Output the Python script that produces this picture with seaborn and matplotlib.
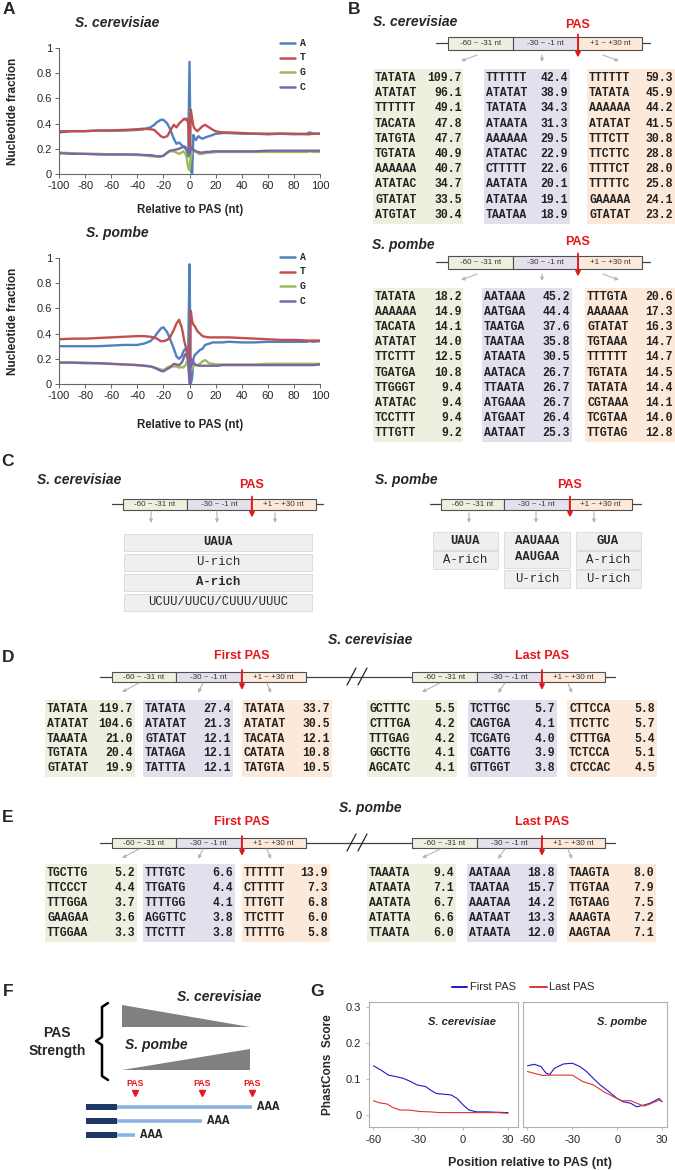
import matplotlib
matplotlib.use("Agg")
import matplotlib.pyplot as plt
from matplotlib.patches import Rectangle, Polygon
import numpy as np
import pandas as pd
import seaborn as sns

sns.set_style("white")
plt.rcParams["font.family"] = ["Liberation Sans", "DejaVu Sans"]
plt.rcParams["axes.unicode_minus"] = False

W, H = 675, 1170
RED = "#e8161b"
MONO = "Liberation Mono"

# ---------------- data ----------------
# panel A: nucleotide fraction around the PAS
pos_a = [-100, -90, -80, -70, -60, -50, -40, -35, -30, -27, -25, -22, -20, -17, -15, -12, -10, -8, -6, -5,
         -4, -3, -2, -1, 0, 1, 2, 3, 4, 5, 6, 7, 8, 10, 12, 15, 18, 20, 22, 25,
         30, 40, 50, 60, 70, 80, 90, 92, 95, 100]

sc_A = [.34, .34, .34, .345, .345, .345, .35, .355, .37, .39, .41, .43, .43, .40, .36, .28, .24, .25, .23, .22,
        .21, .20, .18, .14, .89, .03, .0, .31, .28, .27, .29, .30, .29, .28, .29, .30, .31, .32, .32, .325,
        .325, .32, .32, .315, .32, .315, .32, .33, .32, .32]
sc_T = [.33, .34, .34, .345, .345, .35, .355, .36, .355, .35, .33, .30, .29, .30, .34, .39, .37, .40, .42, .43,
        .44, .43, .44, .40, .22, .51, .44, .38, .36, .35, .34, .35, .36, .38, .39, .37, .35, .34, .335, .33,
        .33, .325, .32, .32, .32, .32, .315, .315, .32, .32]
sc_G = [.17, .165, .16, .16, .155, .155, .15, .15, .14, .14, .14, .14, .145, .17, .18, .18, .17, .16, .17, .18,
        .17, .16, .12, .05, .03, .12, .18, .19, .19, .18, .17, .16, .16, .16, .165, .17, .17, .175, .175, .175,
        .175, .175, .175, .175, .175, .175, .175, .18, .175, .175]
sc_C = [.165, .16, .16, .155, .155, .155, .155, .15, .15, .145, .14, .14, .145, .17, .185, .19, .195, .20, .21, .215,
        .22, .21, .20, .19, .16, .20, .21, .19, .18, .18, .175, .175, .17, .17, .175, .175, .18, .18, .18, .18,
        .18, .18, .18, .185, .185, .185, .185, .185, .185, .185]

sp_A = [.30, .30, .30, .30, .305, .31, .31, .32, .34, .37, .40, .44, .45, .41, .36, .28, .22, .20, .22, .25,
        .27, .28, .26, .25, .95, .0, .05, .20, .23, .24, .25, .26, .27, .28, .31, .32, .33, .33, .33, .33,
        .335, .33, .33, .335, .335, .335, .335, .34, .335, .34]
sp_T = [.355, .36, .36, .365, .37, .375, .38, .38, .375, .37, .36, .34, .34, .35, .37, .43, .48, .51, .45, .40,
        .34, .30, .26, .22, .05, .58, .50, .47, .46, .44, .42, .41, .40, .38, .375, .37, .37, .37, .37, .37,
        .37, .365, .36, .355, .35, .35, .345, .345, .345, .345]
sp_G = [.17, .17, .17, .165, .16, .155, .15, .145, .14, .13, .125, .115, .11, .13, .14, .14, .14, .13, .135, .13,
        .14, .15, .18, .16, .10, .11, .12, .14, .15, .15, .15, .155, .16, .18, .19, .165, .16, .155, .155, .155,
        .155, .155, .155, .16, .16, .16, .16, .16, .16, .16]
sp_C = [.17, .17, .165, .165, .16, .155, .15, .145, .14, .13, .12, .105, .10, .12, .13, .16, .155, .15, .17, .19,
        .22, .24, .22, .18, .0, .20, .19, .17, .16, .15, .15, .145, .145, .145, .145, .145, .145, .145, .145, .15,
        .15, .15, .15, .15, .15, .15, .15, .15, .15, .155]

bases = ["A", "T", "G", "C"]
base_colors = ["#4f81bd", "#c0504d", "#9bbb59", "#8064a2"]

# panel B: top hexamers, S. cerevisiae
b_sc_motifs = [
    ["TATATA", "ATATAT", "TTTTTT", "TACATA", "TATGTA", "TGTATA", "AAAAAA", "ATATAC", "GTATAT", "ATGTAT"],
    ["TTTTTT", "ATATAT", "TATATA", "ATAATA", "AAAAAA", "ATATAC", "CTTTTT", "AATATA", "ATATAA", "TAATAA"],
    ["TTTTTT", "TATATA", "AAAAAA", "ATATAT", "TTTCTT", "TTCTTC", "TTTTCT", "TTTTTC", "GAAAAA", "GTATAT"],
]
b_sc_values = [
    [109.7, 96.1, 49.1, 47.8, 47.7, 40.9, 40.7, 34.7, 33.5, 30.4],
    [42.4, 38.9, 34.3, 31.3, 29.5, 22.9, 22.6, 20.1, 19.1, 18.9],
    [59.3, 45.9, 44.2, 41.5, 30.8, 28.8, 28.0, 25.8, 24.1, 23.2],
]
# panel B: S. pombe
b_sp_motifs = [
    ["TATATA", "AAAAAA", "TACATA", "ATATAT", "TTCTTT", "TGATGA", "TTGGGT", "ATATAC", "TCCTTT", "TTTGTT"],
    ["AATAAA", "AATGAA", "TAATGA", "TAATAA", "ATAATA", "AATACA", "TTAATA", "ATGAAA", "ATGAAT", "AATAAT"],
    ["TTTGTA", "AAAAAA", "GTATAT", "TGTAAA", "TTTTTT", "TGTATA", "TATATA", "CGTAAA", "TCGTAA", "TTGTAG"],
]
b_sp_values = [
    [18.2, 14.9, 14.1, 14.0, 12.5, 10.8, 9.4, 9.4, 9.4, 9.2],
    [45.2, 44.4, 37.6, 35.8, 30.5, 26.7, 26.7, 26.7, 26.4, 25.3],
    [20.6, 17.3, 16.3, 14.7, 14.7, 14.5, 14.4, 14.1, 14.0, 12.8],
]

# panel D: S. cerevisiae first / last PAS
d_first_motifs = [["TATATA", "ATATAT", "TAAATA", "TGTATA", "GTATAT"],
                  ["TATATA", "ATATAT", "GTATAT", "TATAGA", "TATTTA"],
                  ["TATATA", "ATATAT", "TACATA", "CATATA", "TATGTA"]]
d_first_values = [[119.7, 104.6, 21.0, 20.4, 19.9],
                  [27.4, 21.3, 12.1, 12.1, 12.1],
                  [33.7, 30.5, 12.1, 10.8, 10.5]]
d_last_motifs = [["GCTTTC", "CTTTGA", "TTTGAG", "GGCTTG", "AGCATC"],
                 ["TCTTGC", "CAGTGA", "TCGATG", "CGATTG", "GTTGGT"],
                 ["CTTCCA", "TTCTTC", "CTTTGA", "TCTCCA", "CTCCAC"]]
d_last_values = [[5.5, 4.2, 4.2, 4.1, 4.1],
                 [5.7, 4.1, 4.0, 3.9, 3.8],
                 [5.8, 5.7, 5.4, 5.1, 4.5]]

# panel E: S. pombe first / last PAS
e_first_motifs = [["TGCTTG", "TTCCCT", "TTTGGA", "GAAGAA", "TTGGAA"],
                  ["TTTGTC", "TTGATG", "TTTTGG", "AGGTTC", "TTCTTT"],
                  ["TTTTTT", "CTTTTT", "TTTGTT", "TTCTTT", "TTTTTG"]]
e_first_values = [[5.2, 4.4, 3.7, 3.6, 3.3],
                  [6.6, 4.4, 4.1, 3.8, 3.8],
                  [13.9, 7.3, 6.8, 6.0, 5.8]]
e_last_motifs = [["TAAATA", "ATAATA", "AATATA", "ATATTA", "TTAATA"],
                 ["AATAAA", "TAATAA", "AAATAA", "AATAAT", "ATAATA"],
                 ["TAAGTA", "TTGTAA", "TGTAAG", "AAAGTA", "AAGTAA"]]
e_last_values = [[9.4, 7.1, 6.7, 6.6, 6.0],
                 [18.8, 15.7, 14.2, 13.3, 12.0],
                 [8.0, 7.9, 7.5, 7.2, 7.1]]

# panel G: PhastCons score
g_sc_first_pos = [-60, -55, -50, -45, -40, -35, -31, -25, -22, -18, -13, -8, -4, 0, 4, 9, 16, 22, 30]
g_sc_first = [0.137, 0.125, 0.111, 0.107, 0.102, 0.093, 0.084, 0.079, 0.070, 0.060, 0.058, 0.056, 0.046,
              0.028, 0.014, 0.009, 0.009, 0.008, 0.007]
g_sc_last_pos = [-60, -56, -51, -47, -42, -36, -29, -22, -16, -9, 0, 11, 22, 30]
g_sc_last = [0.040, 0.034, 0.031, 0.021, 0.014, 0.014, 0.010, 0.009, 0.007, 0.007, 0.007, 0.007, 0.007, 0.005]
g_sp_first_pos = [-60, -55.5, -51, -47.5, -45, -42, -36, -30, -25, -20.5, -16, -11.5, -7, 0, 4, 9, 13, 18,
                  22, 28, 30]
g_sp_first = [0.137, 0.141, 0.135, 0.116, 0.113, 0.130, 0.142, 0.144, 0.135, 0.121, 0.102, 0.084, 0.070,
              0.046, 0.037, 0.033, 0.023, 0.028, 0.033, 0.046, 0.037]
g_sp_last_pos = [-60, -55.5, -50, -43, -36, -30, -23, -16, -9, -2.5, 3, 9, 13, 18, 22, 28, 30]
g_sp_last = [0.121, 0.116, 0.110, 0.111, 0.111, 0.111, 0.093, 0.084, 0.065, 0.051, 0.040, 0.040, 0.033,
             0.025, 0.031, 0.042, 0.037]

region_labels = ["-60 ~ -31 nt", "-30 ~ -1 nt", "+1 ~ +30 nt"]
box_colors = ["#ebf1de", "#e5e0ec", "#fde9d9"]
tab_colors = ["#ebf1de", "#e4dfec", "#fde9d9"]


def pbox(x0, y0, x1, y1):
    return [x0 / W, 1 - y1 / H, (x1 - x0) / W, (y1 - y0) / H]


fig = plt.figure(figsize=(W / 100, H / 100), dpi=100)
ov = fig.add_axes([0, 0, 1, 1])
ov.set_xlim(0, W)
ov.set_ylim(H, 0)
ov.axis("off")


def arrow(x0, y0, x1, y1, color, lw, ms):
    ov.annotate("", xy=(x1, y1), xytext=(x0, y0),
                arrowprops=dict(arrowstyle="-|>", color=color, lw=lw, mutation_scale=ms,
                                shrinkA=0, shrinkB=0))


def diagram(y, edges, pas_x, pas_txt, arrows, h, label_dy, line=None):
    if line is not None:
        ov.plot(line, [y, y], color="#404040", lw=0.9, zorder=1)
    for i in range(3):
        ov.add_patch(Rectangle((edges[i], y - h / 2), edges[i + 1] - edges[i], h,
                               fc=box_colors[i], ec="#505050", lw=0.8, zorder=2))
        ov.text((edges[i] + edges[i + 1]) / 2, y + 0.5, region_labels[i], fontsize=5.8,
                ha="center", va="center", color="#333333", zorder=3)
    ov.text(pas_x, y - label_dy, pas_txt, color=RED, fontweight="bold", fontsize=9,
            ha="center", va="center")
    arrow(pas_x, y - h / 2 - 2, pas_x, y + h / 2 + 8, RED, 1.3, 7)
    for a in arrows:
        arrow(a[0], a[1], a[2], a[3], "#b5b5b5", 0.8, 5)


def table(y0, dy, cols, motifs, values):
    n = len(motifs[0])
    for j, (xa, xb, xm, xv) in enumerate(cols):
        ov.add_patch(Rectangle((xa, y0 - 9), xb - xa, (n - 1) * dy + 18, fc=tab_colors[j], ec="none"))
        for i in range(n):
            ov.text(xm, y0 + i * dy, motifs[j][i], family=MONO, fontweight="bold", fontsize=8.3,
                    ha="left", va="center", color="#222222")
            ov.text(xv, y0 + i * dy, f"{values[j][i]:.1f}", family=MONO, fontweight="bold", fontsize=8.3,
                    ha="right", va="center", color="#222222")


def panel_label(x, y, s):
    ov.text(x, y, s, fontsize=12.5, fontweight="bold", ha="center", va="center")


def title(x, y, s, ha="center", fs=10):
    ov.text(x, y, s, fontsize=fs, fontweight="bold", style="italic", ha=ha, va="center")


# ---------------- panel A ----------------
panel_label(9, 9, "A")
for (y0, y1, tname, series, leg_y) in [(48, 174, "S. cerevisiae", [sc_A, sc_T, sc_G, sc_C], 43),
                                         (258, 384, "S. pombe", [sp_A, sp_T, sp_G, sp_C], 257)]:
    ax = fig.add_axes(pbox(59, y0, 320, y1))
    df = pd.DataFrame({"pos": pos_a * 4,
                       "frac": sum(series, []),
                       "base": sum([[b] * len(pos_a) for b in bases], [])})
    sns.lineplot(data=df, x="pos", y="frac", hue="base", hue_order=bases, palette=base_colors,
                 legend=False, ax=ax, linewidth=1.7)
    ax.set_xlim(-100, 100)
    ax.set_ylim(0, 1)
    ax.set_xticks(range(-100, 101, 20))
    ax.set_yticks([0, 0.2, 0.4, 0.6, 0.8, 1])
    ax.set_yticklabels(["0", "0.2", "0.4", "0.6", "0.8", "1"])
    ax.set_xlabel("")
    ax.set_ylabel("")
    ax.patch.set_alpha(0)
    for s in ["top", "right"]:
        ax.spines[s].set_visible(False)
    for s in ["left", "bottom"]:
        ax.spines[s].set_color("#666666")
        ax.spines[s].set_linewidth(0.8)
    ax.tick_params(labelsize=8, length=3, width=0.7, color="#666666", pad=2, left=True, bottom=True)
    title(117, y0 - 25, tname)
    ov.text(190, y1 + 36 if y0 < 200 else y1 + 41, "Relative to PAS (nt)", fontsize=8.3,
            fontweight="bold", ha="center", va="center")
    ov.text(13, (y0 + y1) / 2, "Nucleotide fraction", fontsize=8.5, fontweight="bold",
            rotation=90, ha="center", va="center")
    for k, b in enumerate(bases):
        yy = leg_y + k * 14.5
        ov.plot([280, 295], [yy, yy], color=base_colors[k], lw=1.8)
        ov.text(300, yy, b, family=MONO, fontweight="bold", fontsize=7, ha="left", va="center")

# ---------------- panel B ----------------
panel_label(354, 10, "B")
title(373, 22, "S. cerevisiae", ha="left")
diagram(43, [448, 513, 578, 642], 578, "PAS",
        [(477, 55, 461, 61), (542, 55, 542, 62), (603, 55, 619, 61)], 13, 18, line=[436, 650])
table(78, 15.2, [(373, 463, 375, 462), (484, 570, 486, 568), (587, 675, 589, 673)],
      b_sc_motifs, b_sc_values)

title(372, 245, "S. pombe", ha="left")
diagram(262, [448, 513, 578, 642], 578, "PAS",
        [(477, 274, 461, 280), (542, 274, 542, 281), (603, 274, 619, 280)], 13, 20, line=[436, 650])
table(297, 15.1, [(373, 463, 375, 462), (482, 572, 484, 570), (585, 675, 587, 673)],
      b_sp_motifs, b_sp_values)

# ---------------- panel C ----------------
panel_label(8, 462, "C")
title(37, 480, "S. cerevisiae", ha="left")
diagram(504, [123, 187, 251, 316], 252, "PAS",
        [(151, 511, 151, 523), (217, 511, 217, 523), (275, 511, 275, 523)], 11, 19, line=[112, 323])
c_left = [("UAUA", "bold"), ("U-rich", "normal"), ("A-rich", "bold"), ("UCUU/UUCU/CUUU/UUUC", "normal")]
for i, (s, wgt) in enumerate(c_left):
    yc = 542 + i * 20
    ov.add_patch(Rectangle((124, yc - 8.5), 188, 17, fc="#efefef", ec="#d9d9d9", lw=0.6))
    ov.text(218, yc, s, family=MONO, fontweight=wgt, fontsize=8.8, ha="center", va="center")

title(375, 480, "S. pombe", ha="left")
diagram(504, [441, 504, 569, 632], 570, "PAS",
        [(469, 511, 469, 523), (536, 511, 536, 523), (594, 511, 594, 523)], 11, 19, line=[430, 641])
c_boxes = [(433, 532, 65, 18), (433, 551, 65, 18), (504, 532, 66, 36), (504, 570, 66, 18),
           (576, 532, 65, 18), (576, 551, 65, 18), (576, 570, 65, 18)]
for (bx, by, bw, bh) in c_boxes:
    ov.add_patch(Rectangle((bx, by), bw, bh, fc="#efefef", ec="#d9d9d9", lw=0.6))
c_right = [(465, 541, "UAUA", "bold"), (465, 560, "A-rich", "normal"),
           (537, 541, "AAUAAA", "bold"), (537, 557, "AAUGAA", "bold"), (537, 579, "U-rich", "normal"),
           (608, 541, "GUA", "bold"), (608, 560, "A-rich", "normal"), (608, 579, "U-rich", "normal")]
for (tx, ty, s, wgt) in c_right:
    ov.text(tx, ty, s, family=MONO, fontweight=wgt, fontsize=8.8, ha="center", va="center")

# ---------------- panels D and E ----------------
for (lab, y, tname, fm, fv, lm, lv, ty0, dy, cols_l, cols_r) in [
    ("D", 677, "S. cerevisiae", d_first_motifs, d_first_values, d_last_motifs, d_last_values, 709, 14.8,
     [(45, 135, 47, 133), (143, 233, 145, 231), (242, 332, 244, 330)],
     [(367, 457, 369, 455), (468, 557, 470, 555), (567, 657, 569, 655)]),
    ("E", 843, "S. pombe", e_first_motifs, e_first_values, e_last_motifs, e_last_values, 873, 15,
     [(45, 137, 47, 135), (143, 235, 145, 233), (242, 330, 244, 328)],
     [(367, 456, 369, 454), (467, 557, 469, 555), (567, 656, 569, 654)]),
]:
    panel_label(8, y - 19 if lab == "D" else y - 25, lab)
    title(370, y - 37 if lab == "D" else y - 35, tname)
    ov.plot([100, 615], [y, y], color="#404040", lw=0.9, zorder=1)
    for sx in (347, 358):
        ov.plot([sx, sx + 9], [y + 8, y - 9], color="#222222", lw=0.9, zorder=2)
    diagram(y, [112, 176, 241, 306], 242, "First PAS",
            [(139, y + 6, 122, y + 15), (203, y + 6, 198, y + 16), (267, y + 6, 271, y + 16)], 10, 21)
    diagram(y, [412, 477, 541, 605], 542, "Last PAS",
            [(440, y + 6, 422, y + 15), (505, y + 6, 498, y + 16), (568, y + 6, 572, y + 16)], 10, 21)
    table(ty0, dy, cols_l, fm, fv)
    table(ty0, dy, cols_r, lm, lv)

# ---------------- panel F ----------------
panel_label(8, 992, "F")
title(219, 997, "S. cerevisiae")
title(125, 1045, "S. pombe", ha="left")
ov.add_patch(Polygon([(122, 1005), (122, 1027), (250, 1027)], closed=True, fc="#808080", ec="none"))
ov.add_patch(Polygon([(122, 1070), (250, 1049), (250, 1070)], closed=True, fc="#808080", ec="none"))
ov.plot([108, 102, 102, 96, 102, 102, 108], [1003, 1007, 1037, 1041, 1045, 1076, 1080],
        color="black", lw=1.8, solid_joinstyle="round")
ov.text(57, 1033, "PAS", fontsize=10, fontweight="bold", ha="center", va="center")
ov.text(57, 1051, "Strength", fontsize=10, fontweight="bold", ha="center", va="center")
for px in (135, 202, 252):
    ov.text(px, 1084, "PAS", color=RED, fontweight="bold", fontsize=6.3, ha="center", va="center")
    ov.plot([px], [1093], marker="v", color=RED, markersize=5, mec=RED)
for (ry, rx) in [(1107, 252), (1121, 202), (1135, 135)]:
    ov.plot([117, rx], [ry, ry], color="#8db3e2", lw=2.6, solid_capstyle="butt")
    ov.add_patch(Rectangle((86, ry - 3.3), 31, 6.6, fc="#1f3864", ec="none"))
    ov.text(rx + 5, ry, "AAA", family=MONO, fontweight="bold", fontsize=9, ha="left", va="center")

# ---------------- panel G ----------------
panel_label(317, 992, "G")
ov.plot([452, 467], [987, 987], color="#1a1acd", lw=1.4)
ov.text(470, 987, "First PAS", fontsize=8, ha="left", va="center")
ov.plot([530, 547], [987, 987], color="#e03333", lw=1.4)
ov.text(549, 987, "Last PAS", fontsize=8, ha="left", va="center")

for (x0, x1, tname, fp, fvals, lp, lvals, xr, tx) in [
    (369, 518, "S. cerevisiae", g_sc_first_pos, g_sc_first, g_sc_last_pos, g_sc_last, 36.7, 462),
    (523, 667, "S. pombe", g_sp_first_pos, g_sp_first, g_sp_last_pos, g_sp_last, 33.3, 622),
]:
    ax = fig.add_axes(pbox(x0, 1002, x1, 1127))
    dfg = pd.DataFrame({"pos": fp + lp, "score": fvals + lvals,
                        "site": ["First PAS"] * len(fp) + ["Last PAS"] * len(lp)})
    sns.lineplot(data=dfg, x="pos", y="score", hue="site", palette=["#1a1acd", "#e03333"],
                 legend=False, ax=ax, linewidth=0.8)
    ax.set_xlim(-63, xr)
    ax.set_ylim(-0.033, 0.314)
    ax.set_xticks([-60, -30, 0, 30])
    ax.set_yticks([0, 0.1, 0.2, 0.3])
    ax.set_yticklabels(["0", "0.1", "0.2", "0.3"] if x0 < 400 else [])
    ax.set_xlabel("")
    ax.set_ylabel("")
    ax.patch.set_alpha(0)
    for s in ax.spines.values():
        s.set_color("#b0b0b0")
        s.set_linewidth(0.8)
    ax.tick_params(labelsize=8, length=2.5, width=0.6, color="#b0b0b0", pad=3,
                   left=(x0 < 400), bottom=True)
    title(tx, 1022, tname, fs=8)

ov.text(530, 1163, "Position relative to PAS (nt)", fontsize=9, fontweight="bold", ha="center", va="center")
ov.text(328, 1065, "PhastCons  Score", fontsize=8.5, fontweight="bold", rotation=90, ha="center", va="center")

fig.savefig("out.png", dpi=100)
